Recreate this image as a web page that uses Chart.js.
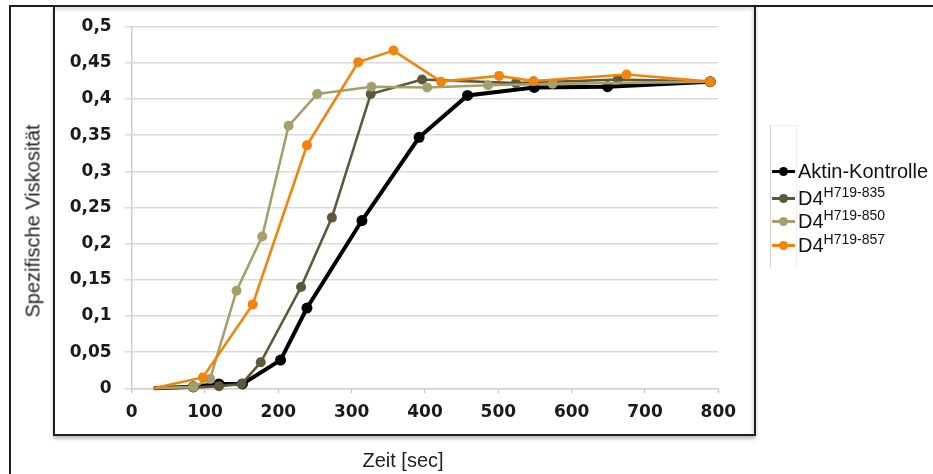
<!DOCTYPE html>
<html>
<head>
<meta charset="utf-8">
<script src="https://cdn.jsdelivr.net/npm/chart.js@4"></script>
<style>
  html, body { margin: 0; padding: 0; background: #fff; }
  #wrap { position: relative; width: 933px; height: 474px; overflow: hidden; background: #fff; }
  #outerFrame { position: absolute; left: 9px; top: 5px; width: 960px; height: 500px; border: 2px solid #1e1e1e; box-sizing: border-box; }
  #innerFrame { position: absolute; left: 53px; top: 5px; width: 703px; height: 431px; border: 2px solid #1e1e1e; box-sizing: border-box;
                box-shadow: 0 3px 3px rgba(0,0,0,0.25), inset -3px 4px 3px -1px rgba(0,0,0,0.12); }
  #chart { position: absolute; left: 0; top: 0; }
  .axisTitle { position: absolute; font-family: "Liberation Sans", Arial, sans-serif; font-size: 20px; color: #222; white-space: nowrap; }
  #xTitle { left: 403px; top: 460px; transform: translate(-50%, -50%); }
  #yTitle { left: 33px; top: 221px; transform: translate(-50%, -50%) rotate(-90deg); }
  #legendBox { position: absolute; left: 770px; top: 125px; width: 25px; height: 142px; border-left: 1px solid #d4d4d4; border-top: 1px solid #eeeeee; border-right: 1px solid #eeeeee; }
  .lrow { position: absolute; left: 772px; height: 24px; display: flex; align-items: center; font-family: "Liberation Sans", Arial, sans-serif; font-size: 20px; color: #111; white-space: nowrap; }
  .lmark { position: relative; width: 23px; height: 24px; margin-right: 3px; flex: none; }
  .lmark .ln { position: absolute; left: 0; right: 0; top: 50%; height: 3px; margin-top: -1.5px; }
  .lmark .dt { position: absolute; left: 50%; top: 50%; width: 9px; height: 9px; margin: -4.5px 0 0 -4.5px; border-radius: 50%; }
  .lrow sup { font-size: 14px; vertical-align: baseline; position: relative; top: -8px; }
</style>
</head>
<body>
<div id="wrap">
  <div id="outerFrame"></div>
  <div id="innerFrame"></div>
  <div id="legendBox"></div>
  <canvas id="chart" width="933" height="474"></canvas>
  <div id="xTitle" class="axisTitle">Zeit [sec]</div>
  <div id="yTitle" class="axisTitle">Spezifische Viskosität</div>
  <div id="legend"></div>
</div>
<script>
// ---- data ----
const seriesNames = ['Aktin-Kontrolle', 'D4', 'D4', 'D4'];
const seriesSup = ['', 'H719-835', 'H719-850', 'H719-857'];

const timeKontrolle = [30, 84, 119, 151, 203, 239, 314, 392, 458, 549, 649, 789];
const valKontrolle  = [0, 0.002, 0.006, 0.006, 0.039, 0.111, 0.232, 0.347, 0.405, 0.416, 0.417, 0.424];

const time835 = [30, 84, 119, 150, 176, 231, 273, 326, 396, 524, 663, 789];
const val835  = [0, 0.001, 0.003, 0.006, 0.036, 0.140, 0.236, 0.407, 0.427, 0.422, 0.427, 0.424];

const time850 = [30, 84, 107, 143, 178, 214, 253, 327, 403, 486, 574, 789];
const val850  = [0, 0.002, 0.013, 0.135, 0.210, 0.363, 0.407, 0.417, 0.416, 0.419, 0.421, 0.424];

const time857 = [30, 97, 165, 239, 309, 357, 422, 501, 548, 675, 789];
const val857  = [0, 0.015, 0.116, 0.336, 0.451, 0.467, 0.424, 0.432, 0.425, 0.434, 0.424];

const xTickLabels = ['0', '100', '200', '300', '400', '500', '600', '700', '800'];
const yTickLabels = ['0', '0,05', '0,1', '0,15', '0,2', '0,25', '0,3', '0,35', '0,4', '0,45', '0,5'];

// ---- styles ----
const colors = ['#000000', '#5c5839', '#a59f6c', '#f0840c'];
const lineWidths = [4, 2.6, 2.6, 2.6];
const radii = [5.5, 5, 5, 5];
const orders = [4, 3, 2, 1];

const times = [timeKontrolle, time835, time850, time857];
const vals = [valKontrolle, val835, val850, val857];

function toPoints(t, v) { return t.map((x, i) => ({ x: x, y: v[i] })); }

const datasets = vals.map((v, k) => ({
  label: seriesNames[k] + seriesSup[k],
  data: toPoints(times[k], v),
  borderColor: colors[k],
  backgroundColor: colors[k],
  pointBackgroundColor: colors[k],
  pointBorderColor: colors[k],
  borderWidth: lineWidths[k],
  pointRadius: (ctx) => ctx.dataIndex === 0 ? 0 : radii[k],
  pointBorderWidth: 0,
  tension: 0,
  order: orders[k],
  clip: false
}));

const tickFont = { family: '"DejaVu Sans", Verdana, sans-serif', size: 17, weight: 'bold' };

new Chart(document.getElementById('chart'), {
  type: 'line',
  data: { datasets: datasets },
  options: {
    responsive: false,
    animation: false,
    events: [],
    layout: { padding: { left: 0, top: 26.7, right: 214.7, bottom: 0 } },
    plugins: { legend: { display: false }, tooltip: { enabled: false }, title: { display: false } },
    scales: {
      x: {
        type: 'linear',
        min: 0, max: 800,
        afterFit: (s) => { s.height = 85.7; },
        ticks: {
          stepSize: 100,
          color: '#1a1a1a',
          font: tickFont,
          padding: 9,
          maxRotation: 0,
          callback: (value, index) => xTickLabels[index]
        },
        grid: { drawOnChartArea: false, drawTicks: true, tickLength: 5, color: '#c4c4c4', lineWidth: 1.2 },
        border: { display: true, color: '#cfcfcf', width: 1.5 }
      },
      y: {
        type: 'linear',
        min: 0, max: 0.5,
        afterFit: (s) => { s.width = 131.7; },
        ticks: {
          stepSize: 0.05,
          color: '#1a1a1a',
          font: tickFont,
          padding: 13,
          callback: (value, index) => yTickLabels[index]
        },
        grid: { color: '#dadada', lineWidth: 1.6, drawTicks: true, tickLength: 7 },
        border: { display: true, color: '#cfcfcf', width: 1.5 }
      }
    }
  }
});

// ---- legend (HTML, built from the series arrays) ----
const legendRowsY = [171, 198, 221, 245];
const legend = document.getElementById('legend');
seriesNames.forEach((name, k) => {
  const row = document.createElement('div');
  row.className = 'lrow';
  row.style.top = (legendRowsY[k] - 12) + 'px';
  const mark = document.createElement('span');
  mark.className = 'lmark';
  const ln = document.createElement('span'); ln.className = 'ln'; ln.style.background = colors[k];
  const dt = document.createElement('span'); dt.className = 'dt'; dt.style.background = colors[k];
  mark.appendChild(ln); mark.appendChild(dt);
  row.appendChild(mark);
  const txt = document.createElement('span');
  txt.appendChild(document.createTextNode(name));
  if (seriesSup[k]) {
    const sup = document.createElement('sup');
    sup.textContent = seriesSup[k];
    txt.appendChild(sup);
  }
  row.appendChild(txt);
  legend.appendChild(row);
});
</script>
</body>
</html>
